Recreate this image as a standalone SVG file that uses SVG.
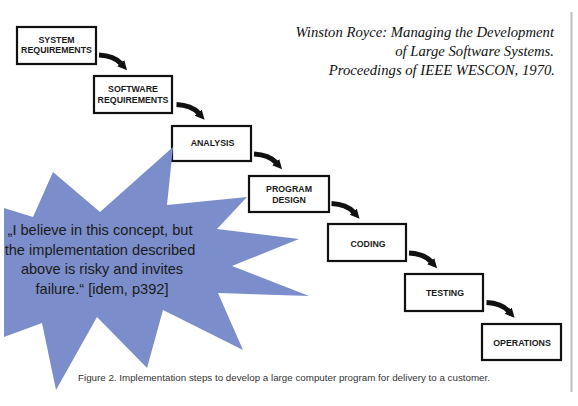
<svg xmlns="http://www.w3.org/2000/svg" width="578" height="406" viewBox="0 0 578 406">
  <style>
    .box { fill: #ffffff; stroke: #111111; stroke-width: 2.2; }
    .lbl { font-family: "Liberation Sans", Arial, sans-serif; font-weight: bold; font-size: 8.8px; fill: #1a1a1a; text-anchor: middle; }
    .conn { fill: none; stroke: #111111; stroke-width: 5; marker-end: url(#head); }
    .cite { font-family: "Liberation Serif", "Times New Roman", serif; font-style: italic; font-size: 14.7px; fill: #111111; text-anchor: end; }
    .quote { font-family: "Liberation Sans", Arial, sans-serif; font-size: 14.6px; fill: #1a1a1a; text-anchor: middle; }
    .caption { font-family: "Liberation Sans", Arial, sans-serif; font-size: 8.8px; fill: #333333; }
  </style>
  <defs>
    <marker id="head" viewBox="0 0 10 10" refX="0.5" refY="5" markerWidth="1.9" markerHeight="2.3" orient="auto" markerUnits="strokeWidth">
      <path d="M0,0 L10,5 L0,10 z" fill="#111111"/>
    </marker>
  </defs>
  <rect width="578" height="406" fill="#ffffff"/>
  <line x1="571.5" y1="12" x2="571.5" y2="392" stroke="#bdbdbd" stroke-width="2"/>

  <g id="citation">
    <text class="cite" x="554" y="37">Winston Royce: Managing the Development</text>
    <text class="cite" x="554" y="56">of Large Software Systems.</text>
    <text class="cite" x="555" y="75">Proceedings of IEEE WESCON, 1970.</text>
  </g>

  <g id="connectors">
    <path class="conn" d="M99,55 C109,55.5 116,58 121,63.5"/>
    <path class="conn" d="M176.5,104.5 C186.5,105 193.5,107.5 198.5,113"/>
    <path class="conn" d="M254,154 C264,154.5 271,157 276,162.5"/>
    <path class="conn" d="M331.5,203.5 C341.5,204 348.5,206.5 353.5,212"/>
    <path class="conn" d="M409,253 C419,253.5 426,256 431,261.5"/>
    <path class="conn" d="M486.5,302.5 C496.5,303 503.5,305.5 508.5,311"/>
  </g>

  <g id="system-requirements">
    <rect class="box" x="17" y="27" width="79" height="37"/>
    <text class="lbl" x="56.5" y="43.2">SYSTEM</text>
    <text class="lbl" x="56.5" y="53.2">REQUIREMENTS</text>
  </g>
  <g id="software-requirements">
    <rect class="box" x="94" y="76" width="78" height="37"/>
    <text class="lbl" x="133" y="92.2">SOFTWARE</text>
    <text class="lbl" x="133" y="102.7">REQUIREMENTS</text>
  </g>
  <g id="analysis">
    <rect class="box" x="172" y="126" width="79" height="35"/>
    <text class="lbl" x="212.5" y="146">ANALYSIS</text>
  </g>
  <g id="program-design">
    <rect class="box" x="249" y="176" width="80" height="36"/>
    <text class="lbl" x="289" y="191.5">PROGRAM</text>
    <text class="lbl" x="289" y="202.5">DESIGN</text>
  </g>
  <g id="coding">
    <rect class="box" x="328" y="224" width="78" height="37"/>
    <text class="lbl" x="368" y="246.5">CODING</text>
  </g>
  <g id="testing">
    <rect class="box" x="405" y="274" width="78" height="37"/>
    <text class="lbl" x="445" y="296">TESTING</text>
  </g>
  <g id="operations">
    <rect class="box" x="482" y="324" width="79" height="36"/>
    <text class="lbl" x="522" y="346">OPERATIONS</text>
  </g>

  <g id="starburst">
    <polygon fill="#7b8ecb" points="173,147 167,205 247,197 217,229 299,239 232,266 309,296 218,293 243,350 163,310 147,368 97,317 56,390 42,323 4,337 4,208 33,217 53,172 100,212"/>
    <text class="quote" x="100" y="235">„I believe in this concept, but</text>
    <text class="quote" x="100" y="254.5">the implementation described</text>
    <text class="quote" x="102" y="274">above is risky and invites</text>
    <text class="quote" x="102" y="293.5">failure.“ [idem, p392]</text>
  </g>

  <g id="caption">
    <text class="caption" x="78" y="381" textLength="412" lengthAdjust="spacingAndGlyphs">Figure 2.  Implementation steps to develop a large computer program for delivery to a customer.</text>
  </g>
</svg>
